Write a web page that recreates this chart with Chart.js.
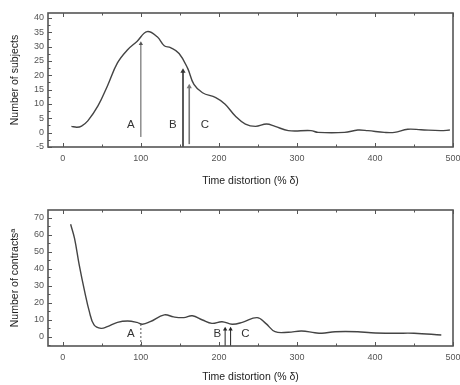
<!DOCTYPE html>
<html>
<head>
<meta charset="utf-8">
<script src="https://cdn.jsdelivr.net/npm/chart.js@4/dist/chart.umd.min.js"></script>
<style>
  html, body { margin: 0; padding: 0; background: #fff; }
  #wrap { position: relative; width: 460px; height: 385px; overflow: hidden; }
  canvas { position: absolute; left: 0; }
  #c1 { top: 0; }
  #c2 { top: 193px; }
</style>
</head>
<body>
<div id="wrap">
  <canvas id="c1" width="460" height="193"></canvas>
  <canvas id="c2" width="460" height="192"></canvas>
</div>
<script>
// ---- data ----
const xTicks = [0, 100, 200, 300, 400, 500];
const xMinorTicks = [50, 150, 250, 350, 450];
const topYTicks = [-5, 0, 5, 10, 15, 20, 25, 30, 35, 40];
const topYMinor = [-2.5, 2.5, 7.5, 12.5, 17.5, 22.5, 27.5, 32.5, 37.5];
const botYTicks = [0, 10, 20, 30, 40, 50, 60, 70];
const botYMinor = [-5, 5, 15, 25, 35, 45, 55, 65];

// top panel: number of subjects
const topX = [11, 18, 24, 32, 45, 57, 70, 83, 95, 108, 121, 130, 138, 149, 160, 168, 179, 196, 208, 221, 234, 247, 261, 272, 289, 318, 327, 361, 378, 391, 412, 425, 442, 459, 484, 496];
const topY = [2.2, 1.9, 2.3, 4.1, 9.3, 16.2, 24.3, 28.9, 31.8, 35.2, 33.4, 30.3, 29.6, 27.6, 22.4, 16.8, 13.9, 12.2, 9.9, 5.8, 3.0, 2.2, 3.0, 2.2, 0.7, 0.7, 0.1, 0.1, 0.9, 0.7, 0.1, 0.1, 1.2, 1.0, 0.7, 0.9];

// bottom panel: number of contracts
const botX = [10, 15, 21, 28, 34, 40, 49, 57, 70, 83, 95, 102, 112, 130, 142, 155, 166, 179, 191, 204, 217, 230, 249, 260, 272, 289, 306, 323, 332, 349, 378, 395, 425, 450, 485];
const botY = [66.3, 58.0, 42.4, 26.7, 14.9, 7.1, 5.1, 6.1, 8.6, 9.4, 8.6, 7.5, 9.0, 13.0, 11.8, 11.4, 12.5, 10.0, 8.0, 9.0, 7.5, 8.6, 11.4, 8.0, 3.1, 2.8, 3.5, 2.5, 2.2, 3.1, 3.1, 2.5, 2.2, 2.2, 1.2];

// arrows: x position, start value, end value
const topArrowX = [100, 154, 162];
const topArrowFrom = [-1.5, -5, -4];
const topArrowTo = [31, 21.4, 16];
const botArrowX = [100, 208, 215];
const botArrowFrom = [-5.3, -5.3, -5.3];
const botArrowTo = [7.5, 4.5, 4.5];

// letter labels
const topLabelText = ['A', 'B', 'C'];
const topLabelX = [87, 141, 182];
const topLabelY = [2.6, 2.6, 2.6];
const botLabelText = ['A', 'B', 'C'];
const botLabelX = [87, 198, 234];
const botLabelY = [2.0, 2.0, 2.0];

const xTitle = 'Time distortion (% δ)';
const topYTitle = 'Number of subjects';
const botYTitle = 'Number of contracts\u1d43';

// ---- helpers ----
const FONT = "'Liberation Sans', Arial, sans-serif";

function framePlugin(yMajor, yMinor, lblText, lblX, lblY) {
  return {
    id: 'frame',
    afterDatasetsDraw(chart) {
      const ctx = chart.ctx;
      const a = chart.chartArea;
      const xs = chart.scales.x, ys = chart.scales.y;
      ctx.save();
      ctx.strokeStyle = '#555';
      ctx.lineWidth = 1;
      ctx.beginPath();
      xTicks.forEach(v => {
        const p = Math.round(xs.getPixelForValue(v)) + 0.5;
        ctx.moveTo(p, a.bottom); ctx.lineTo(p, a.bottom - 4);
        ctx.moveTo(p, a.top); ctx.lineTo(p, a.top + 4);
      });
      xMinorTicks.forEach(v => {
        const p = Math.round(xs.getPixelForValue(v)) + 0.5;
        ctx.moveTo(p, a.bottom); ctx.lineTo(p, a.bottom - 2.5);
        ctx.moveTo(p, a.top); ctx.lineTo(p, a.top + 2.5);
      });
      yMajor.forEach(v => {
        const p = Math.round(ys.getPixelForValue(v)) + 0.5;
        ctx.moveTo(a.left, p); ctx.lineTo(a.left + 4, p);
      });
      yMinor.forEach(v => {
        const p = Math.round(ys.getPixelForValue(v)) + 0.5;
        ctx.moveTo(a.left, p); ctx.lineTo(a.left + 2.5, p);
      });
      ctx.stroke();
      ctx.strokeStyle = '#555';
      ctx.lineWidth = 1.6;
      ctx.strokeRect(a.left, a.top, a.right - a.left, a.bottom - a.top);
      ctx.fillStyle = '#333';
      ctx.font = '11.5px ' + FONT;
      ctx.textAlign = 'center';
      ctx.textBaseline = 'middle';
      lblText.forEach((t, i) => {
        ctx.fillText(t, xs.getPixelForValue(lblX[i]), ys.getPixelForValue(lblY[i]));
      });
      ctx.restore();
    }
  };
}

function arrowSets(ax, from, to, styles) {
  return ax.map((x, i) => ({
    data: [{ x: x, y: from[i] }, { x: x, y: to[i] }],
    borderColor: styles[i].color,
    backgroundColor: styles[i].color,
    borderWidth: styles[i].width,
    borderDash: styles[i].dash || [],
    pointStyle: 'triangle',
    pointRadius: [0, styles[i].head],
    pointBorderWidth: 0,
    tension: 0,
    fill: false
  }));
}

function makeChart(id, opts) {
  return new Chart(document.getElementById(id), {
    type: 'line',
    data: {
      datasets: [{
        data: opts.xs.map((x, i) => ({ x: x, y: opts.ys[i] })),
        borderColor: '#444',
        borderWidth: 1.4,
        pointRadius: 0,
        tension: 0.4,
        fill: false
      }].concat(opts.arrows)
    },
    options: {
      responsive: false,
      animation: false,
      devicePixelRatio: 1,
      layout: { padding: { top: opts.padTop, right: 7, left: 0, bottom: 0 } },
      plugins: { legend: { display: false }, tooltip: { enabled: false } },
      scales: {
        x: {
          type: 'linear', min: -19, max: 500,
          afterBuildTicks: s => { s.ticks = xTicks.map(v => ({ value: v })); },
          afterFit: s => { s.height = opts.xHeight; s.paddingRight = 0; s.paddingLeft = 0; },
          grid: { display: false, drawTicks: false },
          border: { display: false },
          ticks: { color: '#555', font: { size: 9, family: FONT }, padding: 6, maxRotation: 0 },
          title: { display: true, text: xTitle, color: '#222', font: { size: 10.5, family: FONT }, padding: { top: 0, bottom: opts.xTitlePad } }
        },
        y: {
          type: 'linear', min: opts.yMin, max: opts.yMax,
          afterBuildTicks: s => { s.ticks = opts.yTicks.map(v => ({ value: v })); },
          afterFit: s => { s.width = 48; s.paddingTop = 0; s.paddingBottom = 0; },
          grid: { display: false, drawTicks: false },
          border: { display: false },
          ticks: { color: '#555', font: { size: 9, family: FONT }, padding: 4 },
          title: { display: true, text: opts.yTitle, color: '#222', font: { size: 10.5, family: FONT }, padding: { top: 9, bottom: 0 } }
        }
      }
    },
    plugins: [framePlugin(opts.yTicks, opts.yMinor, opts.lblText, opts.lblX, opts.lblY)]
  });
}

makeChart('c1', {
  xs: topX, ys: topY,
  arrows: arrowSets(topArrowX, topArrowFrom, topArrowTo, [
    { color: '#555', width: 1, head: 2.5 },
    { color: '#333', width: 1.6, head: 3 },
    { color: '#777', width: 1.6, head: 3 }
  ]),
  yMin: -5, yMax: 41.7, yTicks: topYTicks, yMinor: topYMinor,
  yTitle: topYTitle, padTop: 13, xHeight: 46, xTitlePad: 6,
  lblText: topLabelText, lblX: topLabelX, lblY: topLabelY
});

makeChart('c2', {
  xs: botX, ys: botY,
  arrows: arrowSets(botArrowX, botArrowFrom, botArrowTo, [
    { color: '#555', width: 1, head: 0, dash: [2, 2] },
    { color: '#222', width: 1, head: 2.5 },
    { color: '#222', width: 1, head: 2.5 }
  ]),
  yMin: -5.3, yMax: 74.7, yTicks: botYTicks, yMinor: botYMinor,
  yTitle: botYTitle, padTop: 17, xHeight: 39, xTitlePad: 2,
  lblText: botLabelText, lblX: botLabelX, lblY: botLabelY
});
</script>
</body>
</html>
